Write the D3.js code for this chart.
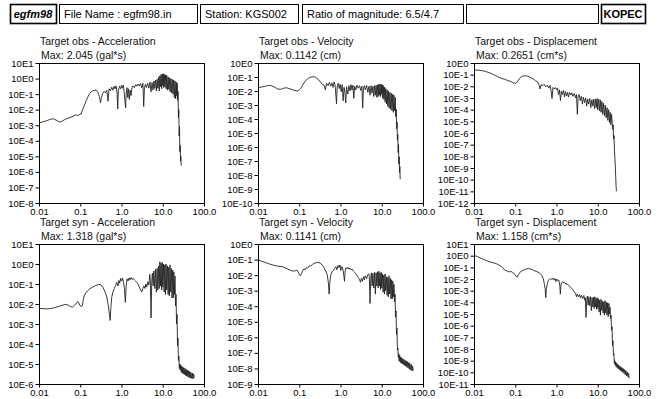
<!DOCTYPE html>
<html>
<head>
<meta charset="utf-8">
<script src="https://cdn.jsdelivr.net/npm/d3@7"></script>
<style>
  html, body { margin: 0; padding: 0; background: #fff; }
  svg { display: block; font-family: "Liberation Sans", Arial, sans-serif; }
</style>
</head>
<body>
<svg id="chart" width="663" height="399"></svg>
<script>
// header strip
const headerTexts = ["egfm98", "File Name : egfm98.in", "Station: KGS002", "Ratio of magnitude: 6.5/4.7", "", "KOPEC"];

// x axis (frequency, Hz)
const xTicks = [0.01, 0.1, 1, 10, 100];
const xTickLabels = ["0.01", "0.1", "1.0", "10.0", "100.0"];

const panelTitles = [
  "Target obs - Acceleration", "Target obs - Velocity", "Target obs - Displacement",
  "Target syn - Acceleration", "Target syn - Velocity", "Target syn - Displacement"
];
const panelMaxLabels = [
  "Max: 2.045 (gal*s)", "Max: 0.1142 (cm)", "Max: 0.2651 (cm*s)",
  "Max: 1.318 (gal*s)", "Max: 0.1141 (cm)", "Max: 1.158 (cm*s)"
];
// y decades shown (exponents), top and bottom
const yTopExp = [1, 0, 0, 1, 0, 1];
const yBottomExp = [-8, -10, -12, -6, -9, -11];

// spectra [frequency, amplitude]
const obsAcc = [[0.01,1.4e-3],[0.012,1.6e-3],[0.015,1.9e-3],[0.018,2.3e-3],[0.021,2.6e-3],[0.024,2.4e-3],[0.028,1.9e-3],[0.032,1.6e-3],[0.036,1.8e-3],[0.042,2.3e-3],[0.05,2.8e-3],[0.06,3.3e-3],[0.07,4.0e-3],[0.08,4.6e-3],[0.09,4.2e-3],[0.1,5.5e-3],[0.105,5e-3],[0.11,8e-3],[0.12,1.4e-2],[0.13,2.4e-2],[0.14,3.8e-2],[0.155,7e-2],[0.17,1.1e-1],[0.19,1.5e-1],[0.21,1.7e-1],[0.24,1.8e-1],[0.26,1.5e-1],[0.28,1.0e-1],[0.295,6e-2],[0.31,2.8e-2],[0.325,6e-2],[0.35,1.1e-1],[0.38,1.5e-1],[0.41,1.2e-1],[0.44,1.8e-1],[0.47,3.5e-2],[0.5,2.2e-1],[0.54,1.6e-1],[0.58,2.8e-1],[0.62,1.8e-1],[0.66,3.2e-1],[0.7,2.2e-1],[0.74,3.4e-1],[0.78,1.2e-1],[0.81,1.1e-2],[0.84,1.8e-1],[0.9,3.2e-1],[0.95,2.2e-1],[1.0,3.6e-1],[1.05,2.4e-1],[1.1,3.8e-1],[1.16,1.4e-1],[1.22,3e-2],[1.26,1.3e-2],[1.3,1.2e-1],[1.36,2.6e-1],[1.42,6e-2],[1.48,2.2e-1],[1.55,4.5e-2],[1.62,1.8e-1],[1.7,8e-2],[1.8,2.6e-1],[1.9,3.4e-1],[2.05,2.6e-1],[2.2,4e-1],[2.35,3.2e-1],[2.5,4.5e-1],[2.7,3.3e-1],[2.9,4.8e-1],[3.1,2.5e-1],[3.3,5e-1],[3.45,1.6e-2],[3.6,2.6e-1],[3.8,4.2e-1],[4.0,2.6e-1],[4.3,5e-1],[4.6,2.4e-1],[4.9,6e-1],[5.2,1.4e-1],[5.5,5.5e-1],[5.8,1.8e-1],[6.1,7e-1],[6.4,2.3e-1],[6.7,8e-1],[7.0,1.6e-1],[7.3,9e-1],[7.6,2.4e-1],[7.9,1.2],[8.2,1.6e-1],[8.5,1.5],[8.8,3e-1],[9.1,1.8],[9.4,2.2e-1],[9.7,2.0],[10.0,3.5e-1],[10.3,2.0],[10.6,2.6e-1],[10.9,1.9],[11.3,3e-1],[11.7,1.7],[12.1,2.2e-1],[12.5,1.6],[13.0,1.8e-1],[13.5,1.3],[14.0,2e-1],[14.5,1.1],[15.1,1.4e-1],[15.7,1.0],[16.3,1.2e-1],[17.0,9e-1],[17.7,1.0e-1],[18.4,8e-1],[19.1,6e-2],[19.8,7e-1],[20.5,5e-2],[21.2,6e-1],[21.8,8e-2],[22.4,5e-1],[23.0,4e-2],[23.5,1.5e-1],[24.0,3e-3],[24.5,1e-2],[25.0,2e-4],[25.5,8e-4],[26.0,2e-5],[26.5,5e-5],[27.0,5e-6],[27.5,1e-5],[28.0,2.5e-6]];

const obsVel = [[0.01,1.8e-2],[0.012,1.9e-2],[0.015,2.2e-2],[0.018,2.5e-2],[0.021,2.4e-2],[0.025,1.9e-2],[0.03,1.4e-2],[0.035,1.3e-2],[0.042,1.6e-2],[0.05,1.7e-2],[0.06,1.4e-2],[0.07,1.2e-2],[0.08,1.05e-2],[0.09,1.0e-2],[0.1,1.2e-2],[0.11,1.6e-2],[0.12,2.5e-2],[0.135,4.5e-2],[0.15,6.5e-2],[0.17,8.5e-2],[0.19,9.8e-2],[0.22,1.05e-1],[0.25,9.5e-2],[0.28,7.5e-2],[0.32,4.5e-2],[0.36,3.2e-2],[0.4,2.6e-2],[0.43,1.2e-2],[0.46,3.5e-2],[0.5,2.4e-2],[0.54,4.2e-2],[0.58,2.2e-2],[0.62,3.8e-2],[0.66,1.8e-2],[0.7,4.5e-2],[0.74,2.6e-2],[0.78,3.5e-3],[0.8,1.2e-3],[0.83,2e-2],[0.88,3.6e-2],[0.93,1.5e-2],[0.98,3e-2],[1.04,9e-3],[1.1,2.8e-2],[1.16,2e-3],[1.22,1.8e-2],[1.28,8e-3],[1.34,1.4e-3],[1.4,2e-2],[1.5,6e-3],[1.6,2.4e-2],[1.7,1e-2],[1.8,2.8e-2],[1.9,1.2e-2],[2.0,2.6e-2],[2.1,3e-3],[2.2,2.2e-2],[2.35,1.2e-2],[2.5,2.6e-2],[2.7,1.6e-2],[2.9,2.4e-2],[3.1,1.1e-2],[3.3,2.2e-2],[3.45,6e-4],[3.6,1.8e-2],[3.8,2.4e-2],[4.0,1.2e-2],[4.3,2.5e-2],[4.6,8e-3],[4.9,2.2e-2],[5.2,5e-3],[5.5,2.4e-2],[5.8,7e-3],[6.1,2.2e-2],[6.4,4e-3],[6.7,2.4e-2],[7.0,5e-3],[7.3,2.6e-2],[7.6,3.5e-3],[7.9,2.8e-2],[8.2,4e-3],[8.5,3e-2],[8.8,5e-3],[9.1,3.2e-2],[9.4,4e-3],[9.7,3e-2],[10.0,6e-3],[10.3,2.8e-2],[10.6,3e-3],[10.9,2.4e-2],[11.3,2.5e-3],[11.7,1.9e-2],[12.1,1.6e-3],[12.5,1.5e-2],[13.0,1.2e-3],[13.5,1.2e-2],[14.0,8e-4],[14.5,1.0e-2],[15.1,6e-4],[15.7,8e-3],[16.3,5e-4],[17.0,7e-3],[17.7,4e-4],[18.4,6e-3],[19.1,3e-4],[19.8,5e-3],[20.5,4e-4],[21.2,3.5e-3],[21.8,1.5e-4],[22.4,5e-4],[23.0,2e-5],[23.5,6e-5],[24.0,3e-6],[24.5,8e-6],[25.0,4e-7],[25.5,1.5e-6],[26.0,6e-8],[26.5,2e-7],[27.0,1.5e-8],[27.5,4e-8],[28.0,5e-9]];

const obsDisp = [[0.0105,2.5e-1],[0.013,2.4e-1],[0.016,2.2e-1],[0.019,1.9e-1],[0.023,1.5e-1],[0.027,1.2e-1],[0.032,9e-2],[0.038,6.5e-2],[0.045,5e-2],[0.055,4e-2],[0.065,3.2e-2],[0.078,2.6e-2],[0.09,2e-2],[0.1,1.8e-2],[0.11,2.2e-2],[0.12,3.5e-2],[0.135,6e-2],[0.15,7.5e-2],[0.17,8e-2],[0.2,7.5e-2],[0.23,6e-2],[0.27,4.5e-2],[0.31,3e-2],[0.35,2.4e-2],[0.38,1.2e-2],[0.4,6e-3],[0.42,1.4e-2],[0.46,1.1e-2],[0.5,1.5e-2],[0.55,9e-3],[0.6,1.3e-2],[0.65,7e-3],[0.7,1.2e-2],[0.74,4e-3],[0.78,9e-4],[0.82,8e-3],[0.88,6e-3],[0.94,8e-3],[1.0,5e-3],[1.06,7e-3],[1.12,2e-3],[1.18,5e-3],[1.25,6e-4],[1.32,4e-3],[1.4,2e-3],[1.48,4.5e-3],[1.56,1.2e-3],[1.65,3.5e-3],[1.75,1.5e-3],[1.85,3e-3],[1.95,1.2e-3],[2.05,3e-3],[2.2,1.8e-3],[2.35,2.8e-3],[2.5,1.4e-3],[2.7,2.4e-3],[2.9,1e-3],[3.05,2e-3],[3.2,4e-5],[3.35,1.5e-3],[3.55,2e-3],[3.75,6e-4],[4.0,1.4e-3],[4.25,3e-4],[4.5,1.2e-3],[4.8,4e-4],[5.1,1e-3],[5.4,2e-4],[5.7,8e-4],[6.0,3e-4],[6.4,9e-4],[6.8,1.5e-4],[7.2,7e-4],[7.6,2e-4],[8.0,8e-4],[8.4,1.2e-4],[8.8,8e-4],[9.2,1.5e-4],[9.6,9e-4],[10.0,1e-4],[10.5,8e-4],[11.0,8e-5],[11.5,7e-4],[12.0,6e-5],[12.6,5e-4],[13.2,4e-5],[13.8,3.5e-4],[14.5,3e-5],[15.2,2.5e-4],[16.0,2e-5],[16.8,1.5e-4],[17.6,1.2e-5],[18.4,1e-4],[19.2,8e-6],[20.0,6e-5],[20.8,5e-6],[21.6,4e-5],[22.4,8e-6],[23.0,2e-6],[23.6,5e-6],[24.2,3e-7],[24.8,6e-7],[25.4,3e-8],[26.0,8e-9],[26.6,1.5e-9],[27.2,2e-10],[27.8,3e-11],[28.3,1e-11]];

const synAcc = [[0.0105,6e-3],[0.013,5.8e-3],[0.016,5.7e-3],[0.02,6e-3],[0.025,6.8e-3],[0.03,7.5e-3],[0.036,8.5e-3],[0.043,9.5e-3],[0.05,9e-3],[0.058,7.5e-3],[0.065,7e-3],[0.072,8.5e-3],[0.08,1.1e-2],[0.088,1.3e-2],[0.095,1.0e-2],[0.1,8e-3],[0.108,7.5e-3],[0.113,9e-3],[0.118,1.6e-2],[0.125,2.6e-2],[0.135,3.5e-2],[0.15,4.5e-2],[0.17,5.8e-2],[0.2,7e-2],[0.24,8.5e-2],[0.28,9.5e-2],[0.32,9e-2],[0.36,6.5e-2],[0.4,4e-2],[0.44,2.2e-2],[0.48,8e-3],[0.51,3e-3],[0.53,1.5e-3],[0.55,6e-3],[0.58,2.2e-2],[0.62,4e-2],[0.67,6e-2],[0.72,8.5e-2],[0.77,1.2e-1],[0.82,8e-2],[0.86,1.5e-1],[0.9,1.1e-1],[0.95,1.9e-1],[1.0,1.4e-1],[1.06,2e-1],[1.12,1.2e-1],[1.18,6e-2],[1.24,1.2e-2],[1.3,8e-2],[1.36,1.8e-1],[1.44,1.4e-1],[1.52,2e-1],[1.6,1.6e-1],[1.7,2.1e-1],[1.8,1.7e-1],[1.92,1.9e-1],[2.05,1.6e-1],[2.2,1.4e-1],[2.35,1.2e-1],[2.5,1.0e-1],[2.7,7e-2],[2.9,5e-2],[3.1,4e-2],[3.3,6e-2],[3.5,8e-2],[3.7,6e-2],[3.9,1e-1],[4.1,7e-2],[4.35,1.3e-1],[4.6,9e-2],[4.85,3e-1],[5.0,1.5e-1],[5.2,2e-3],[5.4,1.2e-1],[5.6,3.5e-1],[5.85,8e-2],[6.1,4.5e-1],[6.4,6e-2],[6.7,5.5e-1],[7.0,4e-2],[7.3,6e-1],[7.6,5e-2],[7.9,8e-1],[8.2,6e-2],[8.5,1.3],[8.8,8e-2],[9.1,1.1],[9.4,5e-2],[9.7,1.2],[10.0,7e-2],[10.4,1.0],[10.8,4e-2],[11.2,9e-1],[11.6,3e-2],[12.0,1.0],[12.5,5e-2],[13.0,8e-1],[13.5,3e-2],[14.0,7e-1],[14.5,2.5e-2],[15.0,9e-1],[15.6,4e-2],[16.2,6e-1],[16.8,2e-2],[17.4,5e-1],[18.0,2e-2],[18.6,4e-1],[19.2,3e-2],[19.8,2.5e-1],[20.4,8e-3],[21.0,3e-2],[21.6,1e-3],[22.2,3e-3],[22.8,8e-5],[23.4,2e-4],[24.0,1.5e-5],[24.6,2.5e-5],[25.2,6e-6],[25.8,1e-5],[26.5,5e-6],[27.2,9e-6],[28.0,4e-6],[28.8,8e-6],[29.6,3.5e-6],[30.5,7e-6],[31.4,3.2e-6],[32.4,6.5e-6],[33.4,3e-6],[34.5,6e-6],[35.6,2.7e-6],[36.8,5.5e-6],[38.0,2.5e-6],[39.3,5e-6],[40.6,2.3e-6],[42.0,4.6e-6],[43.4,2.1e-6],[45.0,4.2e-6],[46.5,2e-6],[48.0,3.8e-6],[50.0,1.9e-6],[52.0,3.5e-6],[54.0,1.8e-6],[56.0,3.2e-6],[58.0,2e-6]];

const synVel = [[0.0105,9e-2],[0.012,8e-2],[0.015,6.5e-2],[0.019,5.2e-2],[0.024,4.3e-2],[0.03,3.8e-2],[0.038,3.5e-2],[0.045,3e-2],[0.053,2.4e-2],[0.062,2e-2],[0.072,1.8e-2],[0.08,1.9e-2],[0.088,2.1e-2],[0.095,1.6e-2],[0.1,1.1e-2],[0.106,9e-3],[0.112,1.2e-2],[0.12,1.8e-2],[0.13,2.5e-2],[0.14,2.2e-2],[0.15,3e-2],[0.16,2.8e-2],[0.175,4e-2],[0.19,3.8e-2],[0.21,5e-2],[0.24,6e-2],[0.28,6.5e-2],[0.32,6e-2],[0.36,4.5e-2],[0.4,3e-2],[0.44,1.8e-2],[0.48,1e-2],[0.51,3e-3],[0.53,6e-4],[0.55,3e-3],[0.58,1e-2],[0.62,1.6e-2],[0.67,2e-2],[0.72,2.8e-2],[0.77,3.5e-2],[0.82,2.2e-2],[0.87,4.2e-2],[0.92,3e-2],[0.97,4.5e-2],[1.02,2e-2],[1.08,3.5e-2],[1.14,2.5e-2],[1.2,1e-2],[1.25,4e-3],[1.3,2e-2],[1.36,3e-2],[1.44,2.5e-2],[1.52,3.2e-2],[1.6,2.4e-2],[1.7,2.8e-2],[1.8,2.2e-2],[1.92,2.4e-2],[2.05,1.8e-2],[2.2,1.5e-2],[2.35,1.2e-2],[2.5,1e-2],[2.7,7e-3],[2.9,5e-3],[3.05,3.5e-3],[3.2,6e-3],[3.4,4e-3],[3.6,8e-3],[3.8,5e-3],[4.0,9e-3],[4.3,6e-3],[4.6,1.1e-2],[4.85,1.2e-2],[5.0,8e-3],[5.2,1.5e-4],[5.4,6e-3],[5.6,1.4e-2],[5.85,2e-3],[6.1,1.3e-2],[6.4,1.5e-3],[6.7,1.5e-2],[7.0,6e-4],[7.3,1.4e-2],[7.6,2e-3],[7.9,1.6e-2],[8.2,1.5e-3],[8.5,1.8e-2],[8.8,2e-3],[9.1,1.4e-2],[9.4,1.2e-3],[9.7,1.5e-2],[10.0,1.5e-3],[10.4,1.2e-2],[10.8,8e-4],[11.2,1e-2],[11.6,6e-4],[12.0,1.2e-2],[12.5,1e-3],[13.0,8e-3],[13.5,5e-4],[14.0,7e-3],[14.5,4e-4],[15.0,9e-3],[15.6,6e-4],[16.2,6e-3],[16.8,3e-4],[17.4,5e-3],[18.0,3e-4],[18.6,4e-3],[19.2,4e-4],[19.8,2.5e-3],[20.4,2e-4],[21.0,6e-4],[21.6,2e-5],[22.2,5e-5],[22.8,1.5e-6],[23.4,4e-6],[24.0,1.5e-7],[24.6,2e-7],[25.2,5e-8],[25.8,9e-8],[26.5,3e-8],[27.2,7e-8],[28.0,2.5e-8],[28.8,5.5e-8],[29.6,2.2e-8],[30.5,4.8e-8],[31.4,2e-8],[32.4,4.2e-8],[33.4,1.8e-8],[34.5,3.8e-8],[35.6,1.6e-8],[36.8,3.4e-8],[38.0,1.4e-8],[39.3,3e-8],[40.6,1.2e-8],[42.0,2.7e-8],[43.4,1.1e-8],[45.0,2.4e-8],[46.5,9e-9],[48.0,2.1e-8],[50.0,8e-9],[52.0,1.8e-8],[54.0,7e-9],[56.0,1.4e-8],[58.0,7e-9]];

const synDisp = [[0.0105,1.0],[0.012,8.5e-1],[0.014,6.5e-1],[0.017,4.8e-1],[0.02,3.8e-1],[0.024,3e-1],[0.029,2.5e-1],[0.034,2.1e-1],[0.04,1.6e-1],[0.046,1.2e-1],[0.05,9e-2],[0.055,6e-2],[0.062,5e-2],[0.07,4e-2],[0.078,4.5e-2],[0.085,3.8e-2],[0.093,3e-2],[0.1,2.2e-2],[0.106,1.6e-2],[0.112,1.5e-2],[0.12,2.5e-2],[0.13,3.8e-2],[0.145,5e-2],[0.16,6e-2],[0.18,7e-2],[0.21,8e-2],[0.24,7e-2],[0.28,5.5e-2],[0.32,4.5e-2],[0.36,3.8e-2],[0.4,3e-2],[0.44,2e-2],[0.48,1e-2],[0.51,3.5e-3],[0.53,1.5e-3],[0.55,2.5e-4],[0.57,1.5e-3],[0.6,4e-3],[0.64,8e-3],[0.68,1e-2],[0.72,1.1e-2],[0.77,9e-3],[0.82,1.2e-2],[0.87,8e-3],[0.92,1.1e-2],[0.97,6e-3],[1.02,1e-2],[1.08,7e-3],[1.14,8e-3],[1.2,3e-3],[1.24,5e-4],[1.28,3e-3],[1.34,5e-3],[1.42,6e-3],[1.5,4.5e-3],[1.6,5e-3],[1.7,3.5e-3],[1.8,4e-3],[1.92,3e-3],[2.05,2.5e-3],[2.2,2e-3],[2.35,1.5e-3],[2.5,1.2e-3],[2.7,8e-4],[2.9,6e-4],[3.05,3e-4],[3.2,5e-4],[3.4,3e-4],[3.6,4.5e-4],[3.8,2.5e-4],[4.0,4e-4],[4.3,2e-4],[4.6,4e-4],[4.85,1.5e-4],[5.0,2.5e-4],[5.2,5e-6],[5.4,1.5e-4],[5.6,3.5e-4],[5.85,6e-5],[6.1,3e-4],[6.4,5e-5],[6.7,3e-4],[7.0,2e-5],[7.3,2.5e-4],[7.6,4e-5],[7.9,2.8e-4],[8.2,3e-5],[8.5,3e-4],[8.8,4e-5],[9.1,2.2e-4],[9.4,2.5e-5],[9.7,2.5e-4],[10.0,3e-5],[10.4,2e-4],[10.8,1.5e-5],[11.2,1.6e-4],[11.6,8e-6],[12.0,1.8e-4],[12.5,2e-5],[13.0,1.3e-4],[13.5,1.2e-5],[14.0,1.1e-4],[14.5,8e-6],[15.0,1.4e-4],[15.6,1.2e-5],[16.2,1e-4],[16.8,8e-6],[17.4,9e-5],[18.0,6e-6],[18.6,8e-5],[19.2,1e-5],[19.8,4e-5],[20.4,4e-6],[21.0,8e-6],[21.6,4e-7],[22.2,8e-7],[22.8,2e-8],[23.4,5e-8],[24.0,3e-9],[24.6,4e-9],[25.2,6e-10],[25.8,1e-9],[26.5,4e-10],[27.2,8e-10],[28.0,3e-10],[28.8,6e-10],[29.6,2.5e-10],[30.5,5e-10],[31.4,2e-10],[32.4,4e-10],[33.4,1.7e-10],[34.5,3.4e-10],[35.6,1.4e-10],[36.8,2.8e-10],[38.0,1.2e-10],[39.3,2.4e-10],[40.6,1e-10],[42.0,2e-10],[43.4,8e-11],[45.0,1.7e-10],[46.5,6e-11],[48.0,1.4e-10],[50.0,5e-11],[52.0,1.1e-10],[54.0,4e-11],[56.0,8e-11],[58.0,3e-11]];

const seriesList = [obsAcc, obsVel, obsDisp, synAcc, synVel, synDisp];

// layout
const colLeft = [39, 258, 474];
const rowTop = [63, 244];
const plotW = 165;
const plotH = 140;
const font = "\"Liberation Sans\", Arial, sans-serif";

const svg = d3.select("#chart");

// ---- header boxes
const boxes = [
  { x: 10, w: 46, bold: true, italic: true, thick: true },
  { x: 59, w: 138 },
  { x: 200, w: 98 },
  { x: 302, w: 161 },
  { x: 466, w: 132 },
  { x: 601, w: 44, bold: true, thick: true }
];
const header = svg.append("g");
boxes.forEach((b, i) => {
  header.append("rect")
    .attr("x", b.x + 0.5).attr("y", 4.5)
    .attr("width", b.w).attr("height", 19)
    .attr("fill", "#fff")
    .attr("stroke", "#000")
    .attr("stroke-width", b.thick ? 1.6 : 1);
  header.append("text")
    .attr("x", b.x + (b.bold ? b.w / 2 : 5))
    .attr("y", 18)
    .attr("text-anchor", b.bold ? "middle" : "start")
    .attr("font-size", 11)
    .attr("font-weight", b.bold ? "bold" : "normal")
    .attr("font-style", b.italic ? "italic" : "normal")
    .attr("fill", "#000")
    .text(headerTexts[i]);
});

// ---- panels
seriesList.forEach((data, i) => {
  const col = i % 3;
  const row = Math.floor(i / 3);
  const left = colLeft[col];
  const top = rowTop[row];

  const x = d3.scaleLog().domain([0.01, 100]).range([left, left + plotW]);
  const y = d3.scaleLog()
    .domain([Math.pow(10, yBottomExp[i]), Math.pow(10, yTopExp[i])])
    .range([top + plotH, top]);

  const g = svg.append("g");

  g.append("text")
    .attr("x", left + 1).attr("y", top - 18)
    .attr("font-size", 10.5).attr("fill", "#111")
    .text(panelTitles[i]);
  g.append("text")
    .attr("x", left + 2).attr("y", top - 4)
    .attr("font-size", 10.5).attr("fill", "#111")
    .text(panelMaxLabels[i]);

  // frame
  g.append("rect")
    .attr("x", left + 0.5).attr("y", top + 0.5)
    .attr("width", plotW).attr("height", plotH)
    .attr("fill", "none").attr("stroke", "#000").attr("stroke-width", 1);

  const yTickVals = d3.range(yTopExp[i], yBottomExp[i] - 1, -1).map(e => Math.pow(10, e));
  const yAxis = d3.axisLeft(y)
    .tickValues(yTickVals)
    .tickSize(4)
    .tickFormat(v => "10E" + Math.round(Math.log10(v)));
  g.append("g")
    .attr("transform", `translate(${left + 0.5},0)`)
    .call(yAxis)
    .call(a => a.select(".domain").remove())
    .call(a => a.selectAll("text").attr("font-size", 9.5).attr("font-family", font).attr("fill", "#000").attr("dx", 1));

  const xAxis = d3.axisBottom(x)
    .tickValues(xTicks)
    .tickSize(3)
    .tickFormat((v, k) => xTickLabels[k]);
  g.append("g")
    .attr("transform", `translate(0,${top + plotH + 0.5})`)
    .call(xAxis)
    .call(a => a.select(".domain").remove())
    .call(a => a.selectAll("text").attr("font-size", 9.5).attr("font-family", font).attr("fill", "#000").attr("dy", "0.55em"));

  const line = d3.line()
    .x(d => x(d[0]))
    .y(d => y(d[1]));

  g.append("path")
    .datum(data)
    .attr("fill", "none")
    .attr("stroke", "#222")
    .attr("stroke-width", 0.9)
    .attr("d", line);
});
</script>
</body>
</html>
